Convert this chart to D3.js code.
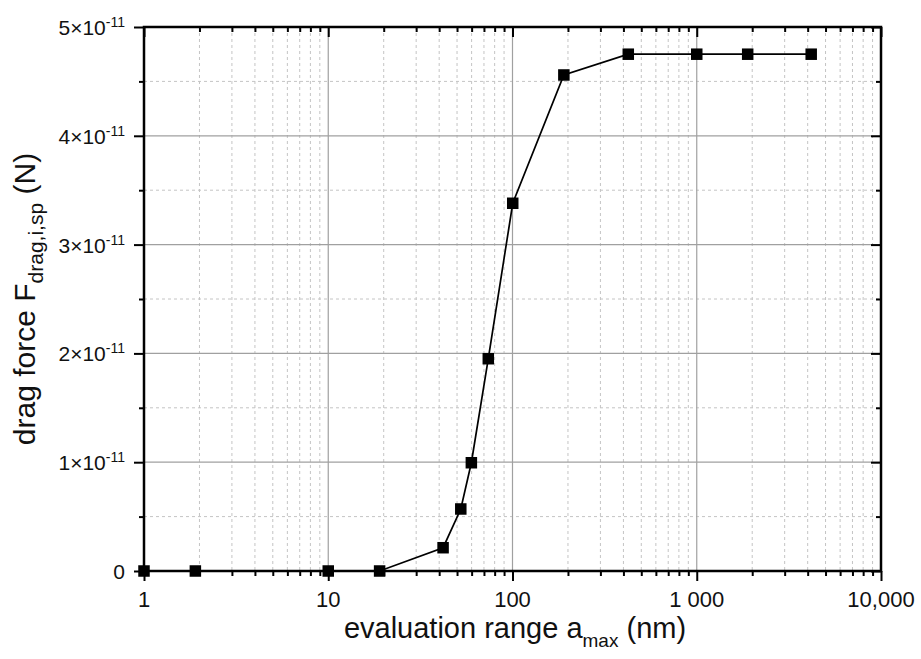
<!DOCTYPE html>
<html><head><meta charset="utf-8">
<script src="https://cdn.jsdelivr.net/npm/d3@7"></script>
<style>body{margin:0;background:#fff}svg{display:block;font-family:"Liberation Sans",Arial,sans-serif}</style>
</head><body>
<svg id="c" width="921" height="659"></svg>
<script>
const xValues = [1, 1.9, 10, 19, 42, 52.4, 59.8, 73.9, 100.3, 190, 425, 1000, 1890, 4180];
const yValues = [0, 0, 0, 0, 0.214e-11, 0.57e-11, 0.995e-11, 1.951e-11, 3.38e-11, 4.559e-11, 4.75e-11, 4.75e-11, 4.75e-11, 4.75e-11];
const xTickValues = [1, 10, 100, 1000, 10000];
const xTickLabels = ["1", "10", "100", "1 000", "10,000"];
const yTickValues = [0, 1e-11, 2e-11, 3e-11, 4e-11, 5e-11];
const yTickMantissa = ["0", "1", "2", "3", "4", "5"];

(function () {
const L = 144, R = 881, T = 27, B = 571;
const svg = d3.select("#c");
const x = d3.scaleLog().domain([1, 10000]).range([L, R]);
const y = d3.scaleLinear().domain([0, 5e-11]).range([B, T]);

const minorX = [];
for (let d = 1; d < 10000; d *= 10) for (let k = 2; k <= 9; k++) minorX.push(d * k);
const minorY = [0.5e-11, 1.5e-11, 2.5e-11, 3.5e-11, 4.5e-11];

const g = svg.append("g");
g.selectAll(".mgx").data(minorX).join("line")
  .attr("x1", d => x(d)).attr("x2", d => x(d)).attr("y1", T).attr("y2", B)
  .attr("stroke", "#c4c4c4").attr("stroke-width", 1).attr("stroke-dasharray", "3,3");
g.selectAll(".mgy").data(minorY).join("line")
  .attr("x1", L).attr("x2", R).attr("y1", d => y(d)).attr("y2", d => y(d))
  .attr("stroke", "#c4c4c4").attr("stroke-width", 1).attr("stroke-dasharray", "3,3");
g.selectAll(".Mgx").data(xTickValues.slice(1, -1)).join("line")
  .attr("x1", d => x(d)).attr("x2", d => x(d)).attr("y1", T).attr("y2", B)
  .attr("stroke", "#a0a0a0").attr("stroke-width", 1.2);
g.selectAll(".Mgy").data(yTickValues.slice(1, -1)).join("line")
  .attr("x1", L).attr("x2", R).attr("y1", d => y(d)).attr("y2", d => y(d))
  .attr("stroke", "#a0a0a0").attr("stroke-width", 1.2);

const axes = [
  [`translate(0,${B})`, d3.axisBottom(x).tickValues(xTickValues).tickSize(10)],
  [`translate(0,${B})`, d3.axisBottom(x).tickValues(minorX).tickSize(5)],
  [`translate(0,${T})`, d3.axisBottom(x).tickValues(xTickValues).tickSize(10)],
  [`translate(0,${T})`, d3.axisBottom(x).tickValues(minorX).tickSize(5)],
  [`translate(${L},0)`, d3.axisLeft(y).tickValues(yTickValues).tickSize(10)],
  [`translate(${L},0)`, d3.axisLeft(y).tickValues(minorY).tickSize(5)],
  [`translate(${R},0)`, d3.axisLeft(y).tickValues(yTickValues).tickSize(10)],
  [`translate(${R},0)`, d3.axisLeft(y).tickValues(minorY).tickSize(5)]
];
axes.forEach(([tr, ax]) => {
  const a = svg.append("g").attr("transform", tr).call(ax.tickFormat("").tickSizeOuter(0));
  a.select(".domain").remove();
  a.selectAll("text").remove();
  a.selectAll("line").attr("stroke", "#000").attr("stroke-width", 2);
});
svg.append("rect").attr("x", L).attr("y", T).attr("width", R - L).attr("height", B - T)
  .attr("fill", "none").attr("stroke", "#000").attr("stroke-width", 2.5);

svg.selectAll(".xl").data(xTickValues).join("text")
  .attr("x", d => x(d)).attr("y", 607).attr("text-anchor", "middle")
  .attr("font-size", 22).attr("fill", "#111").text((d, i) => xTickLabels[i]);
const yl = svg.selectAll(".yl").data(yTickValues).join("text")
  .attr("x", 125).attr("y", d => y(d) + 8).attr("text-anchor", "end")
  .attr("font-size", 21).attr("fill", "#111");
yl.each(function (d, i) {
  const t = d3.select(this);
  if (d === 0) { t.text("0"); return; }
  t.append("tspan").text(yTickMantissa[i] + "×10");
  t.append("tspan").attr("dy", -8).attr("font-size", 14).text("-11");
});

const pts = xValues.map((v, i) => [v, yValues[i]]);
svg.append("path").datum(pts)
  .attr("d", d3.line().x(d => x(d[0])).y(d => y(d[1])))
  .attr("fill", "none").attr("stroke", "#000").attr("stroke-width", 1.7);
svg.selectAll(".pt").data(pts).join("rect")
  .attr("x", d => x(d[0]) - 5.75).attr("y", d => y(d[1]) - 5.75)
  .attr("width", 11.5).attr("height", 11.5).attr("fill", "#000");

const xt = svg.append("text").attr("x", 515).attr("y", 638).attr("text-anchor", "middle")
  .attr("font-size", 29).attr("fill", "#111");
xt.append("tspan").text("evaluation range a");
xt.append("tspan").attr("dy", 9).attr("font-size", 19).text("max");
xt.append("tspan").attr("dy", -9).text(" (nm)");

const yt = svg.append("text").attr("transform", `translate(35,299) rotate(-90)`)
  .attr("text-anchor", "middle").attr("font-size", 30).attr("fill", "#111");
yt.append("tspan").text("drag force F");
yt.append("tspan").attr("dy", 8).attr("font-size", 21).text("drag,i,sp");
yt.append("tspan").attr("dy", -8).text(" (N)");
})();
</script>
</body></html>
